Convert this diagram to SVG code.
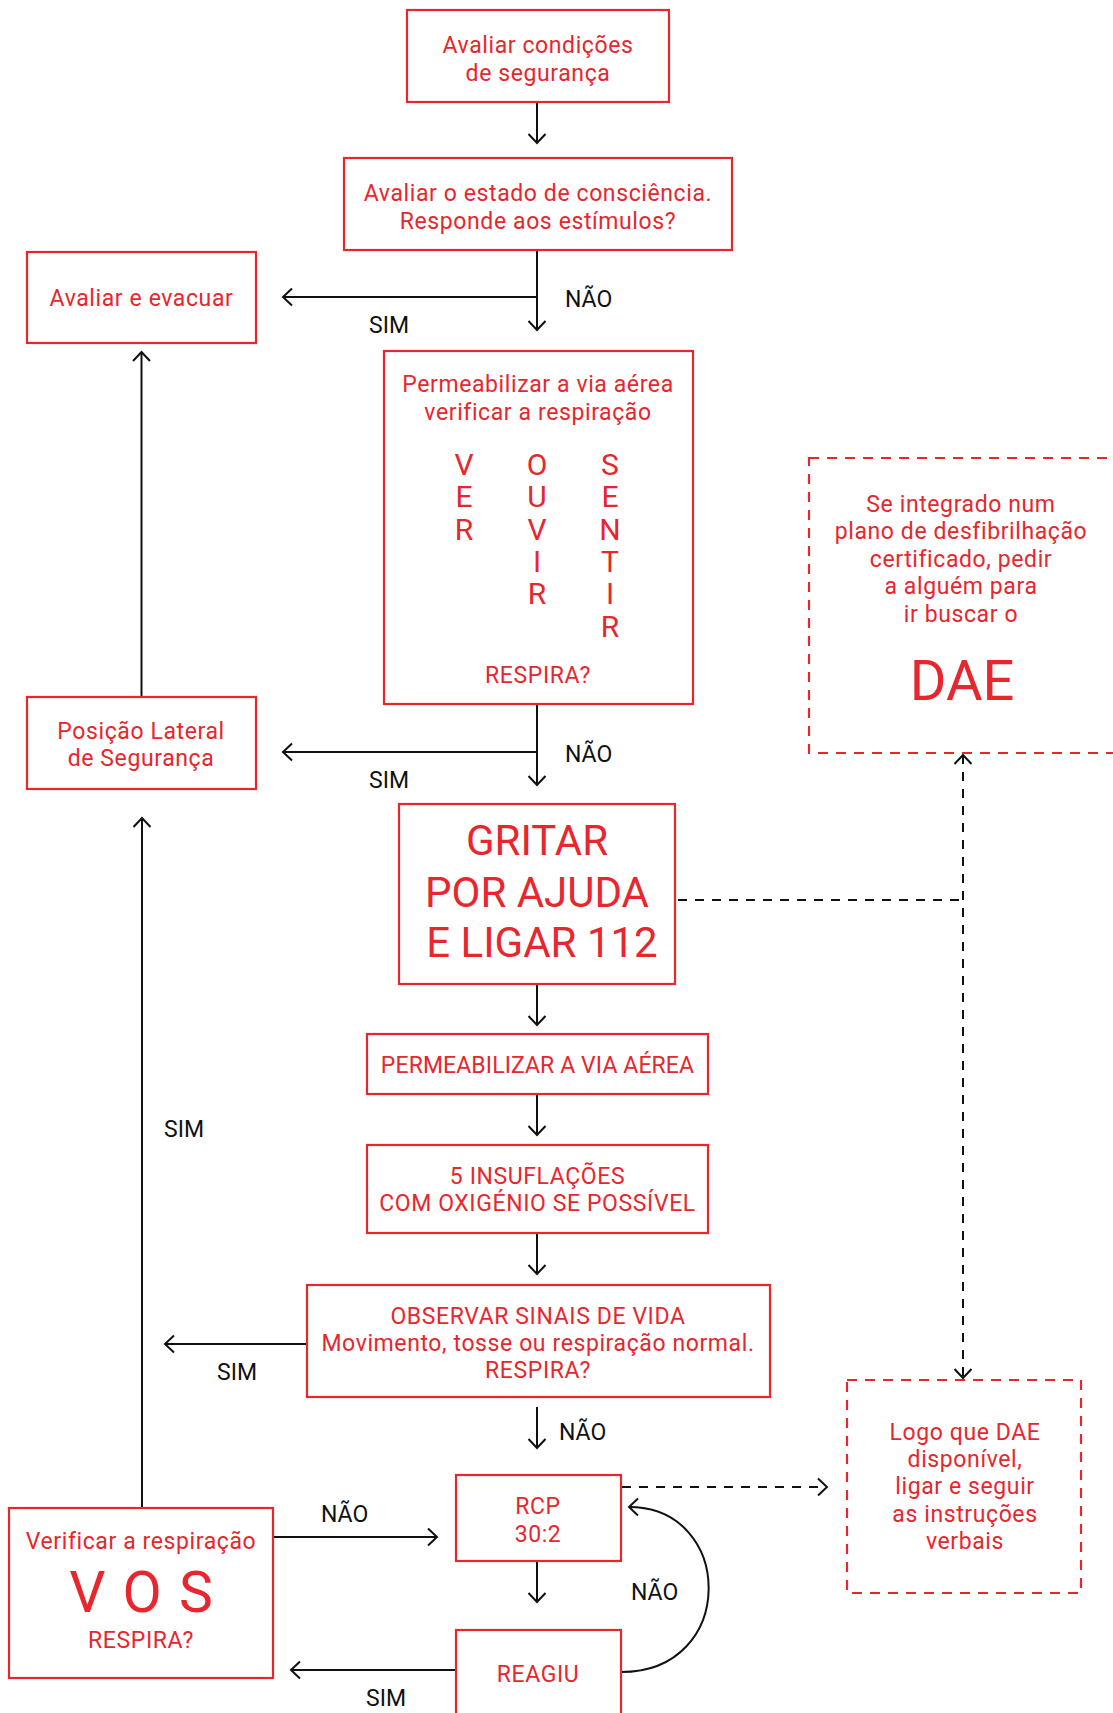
<svg xmlns="http://www.w3.org/2000/svg" width="1113" height="1713" viewBox="0 0 1113 1713">
  <style>
    .box { fill: #fff; stroke: #e8262d; stroke-width: 2.2; }
    .dbox { fill: none; stroke: #e8262d; stroke-width: 2.2; stroke-dasharray: 10 8; }
    .t { font-family: Roboto, "Liberation Sans", sans-serif; font-size: 23px; fill: #e8262d; text-anchor: middle; letter-spacing: 0.6px; }
    .tight { letter-spacing: 0.1px; }
    .big { font-size: 42px; letter-spacing: 0; }
    .col { font-size: 30px; letter-spacing: 0; }
    .huge { font-size: 56px; letter-spacing: 0; }
    .vos { font-size: 57px; letter-spacing: 0; word-spacing: 3px; }
    .lbl { font-family: Roboto, "Liberation Sans", sans-serif; font-size: 23px; fill: #111; }
    .ln { fill: none; stroke: #111; stroke-width: 2; }
    .dash { fill: none; stroke: #111; stroke-width: 2; stroke-dasharray: 9 8; }
  </style>
  <defs>
    <marker id="ah" viewBox="-12 -11 14 22" refX="0" refY="0" markerWidth="14" markerHeight="22" orient="auto-start-reverse" markerUnits="userSpaceOnUse">
      <path d="M-9,-8.5 L0,0 L-9,8.5" fill="none" stroke="#111" stroke-width="2" stroke-dasharray="none"/>
    </marker>
  </defs>

  <!-- connectors -->
  <g id="connectors">
    <line class="ln" x1="537" y1="102" x2="537" y2="143" marker-end="url(#ah)"/>
    <line class="ln" x1="537" y1="250" x2="537" y2="330" marker-end="url(#ah)"/>
    <line class="ln" x1="538" y1="297" x2="283" y2="297" marker-end="url(#ah)"/>
    <line class="ln" x1="141.5" y1="697" x2="141.5" y2="352" marker-end="url(#ah)"/>
    <line class="ln" x1="537" y1="704" x2="537" y2="785" marker-end="url(#ah)"/>
    <line class="ln" x1="538" y1="752" x2="283" y2="752" marker-end="url(#ah)"/>
    <line class="ln" x1="537" y1="984" x2="537" y2="1025" marker-end="url(#ah)"/>
    <line class="ln" x1="537" y1="1094" x2="537" y2="1135" marker-end="url(#ah)"/>
    <line class="ln" x1="537" y1="1233" x2="537" y2="1274" marker-end="url(#ah)"/>
    <line class="ln" x1="307" y1="1344" x2="165" y2="1344" marker-end="url(#ah)"/>
    <line class="ln" x1="537" y1="1407" x2="537" y2="1448" marker-end="url(#ah)"/>
    <line class="ln" x1="273" y1="1537" x2="437" y2="1537" marker-end="url(#ah)"/>
    <line class="ln" x1="142" y1="1508" x2="142" y2="818" marker-end="url(#ah)"/>
    <line class="ln" x1="537" y1="1561" x2="537" y2="1602" marker-end="url(#ah)"/>
    <line class="ln" x1="456" y1="1670" x2="291" y2="1670" marker-end="url(#ah)"/>
    <path class="ln" d="M621,1672 C738,1672 735,1507 629,1507" marker-end="url(#ah)"/>
    <line class="dash" x1="678" y1="900" x2="963" y2="900"/>
    <line class="dash" x1="963" y1="755" x2="963" y2="1378" marker-start="url(#ah)" marker-end="url(#ah)"/>
    <line class="dash" x1="622" y1="1487" x2="827" y2="1487" marker-end="url(#ah)"/>

    <text class="lbl" x="565" y="307">NÃO</text>
    <text class="lbl" x="369" y="333">SIM</text>
    <text class="lbl" x="565" y="762">NÃO</text>
    <text class="lbl" x="369" y="788">SIM</text>
    <text class="lbl" x="164" y="1137">SIM</text>
    <text class="lbl" x="217" y="1380">SIM</text>
    <text class="lbl" x="559" y="1440">NÃO</text>
    <text class="lbl" x="321" y="1522">NÃO</text>
    <text class="lbl" x="631" y="1600">NÃO</text>
    <text class="lbl" x="366" y="1706">SIM</text>
  </g>

  <!-- nodes -->
  <g id="seguranca">
    <rect class="box" x="407" y="10" width="262" height="92"/>
    <text class="t" x="538" y="53">Avaliar condições</text>
    <text class="t" x="538" y="81">de segurança</text>
  </g>
  <g id="consciencia">
    <rect class="box" x="344" y="158" width="388" height="92"/>
    <text class="t" x="538" y="201">Avaliar o estado de consciência.</text>
    <text class="t" x="538" y="229">Responde aos estímulos?</text>
  </g>
  <g id="evacuar">
    <rect class="box" x="27" y="252" width="229" height="91"/>
    <text class="t" x="141.5" y="306">Avaliar e evacuar</text>
  </g>
  <g id="via-aerea">
    <rect class="box" x="384" y="351" width="309" height="353"/>
    <text class="t" x="538" y="392">Permeabilizar a via aérea</text>
    <text class="t" x="538" y="420">verificar a respiração</text>
    <g class="t col">
      <text x="464" y="475">V</text>
      <text x="464" y="507">E</text>
      <text x="464" y="540">R</text>
      <text x="537" y="475">O</text>
      <text x="537" y="507">U</text>
      <text x="537" y="540">V</text>
      <text x="537" y="572">I</text>
      <text x="537" y="604">R</text>
      <text x="610" y="475">S</text>
      <text x="610" y="507">E</text>
      <text x="610" y="540">N</text>
      <text x="610" y="572">T</text>
      <text x="610" y="604">I</text>
      <text x="610" y="637">R</text>
    </g>
    <text class="t" x="538" y="683">RESPIRA?</text>
  </g>
  <g id="dae">
    <rect class="dbox" x="809" y="458" width="330" height="295"/>
    <text class="t" x="961" y="512">Se integrado num</text>
    <text class="t" x="961" y="539">plano de desfibrilhação</text>
    <text class="t" x="961" y="567">certificado, pedir</text>
    <text class="t" x="961" y="594">a alguém para</text>
    <text class="t" x="961" y="622">ir buscar o</text>
    <text class="t huge" x="962" y="700">DAE</text>
  </g>
  <g id="pls">
    <rect class="box" x="27" y="697" width="229" height="92"/>
    <text class="t" x="141" y="739">Posição Lateral</text>
    <text class="t" x="141" y="766">de Segurança</text>
  </g>
  <g id="gritar">
    <rect class="box" x="399" y="804" width="276" height="180"/>
    <text class="t big" x="537" y="855">GRITAR</text>
    <text class="t big" x="537" y="907">POR AJUDA</text>
    <text class="t big" x="542" y="957">E LIGAR 112</text>
  </g>
  <g id="permeabilizar">
    <rect class="box" x="367" y="1034" width="341" height="60"/>
    <text class="t tight" x="537.5" y="1073">PERMEABILIZAR A VIA AÉREA</text>
  </g>
  <g id="insuflacoes">
    <rect class="box" x="367" y="1145" width="341" height="88"/>
    <text class="t" x="537.5" y="1184">5 INSUFLAÇÕES</text>
    <text class="t" x="537.5" y="1211">COM OXIGÉNIO SE POSSÍVEL</text>
  </g>
  <g id="sinais-vida">
    <rect class="box" x="307" y="1285" width="463" height="112"/>
    <text class="t" x="538" y="1324">OBSERVAR SINAIS DE VIDA</text>
    <text class="t" x="538" y="1351">Movimento, tosse ou respiração normal.</text>
    <text class="t" x="538" y="1378">RESPIRA?</text>
  </g>
  <g id="rcp">
    <rect class="box" x="456" y="1475" width="165" height="86"/>
    <text class="t" x="538" y="1514">RCP</text>
    <text class="t" x="538" y="1542">30:2</text>
  </g>
  <g id="logo-dae">
    <rect class="dbox" x="847" y="1380" width="234" height="213"/>
    <text class="t" x="965" y="1440">Logo que DAE</text>
    <text class="t" x="965" y="1467">disponível,</text>
    <text class="t" x="965" y="1494">ligar e seguir</text>
    <text class="t" x="965" y="1522">as instruções</text>
    <text class="t" x="965" y="1549">verbais</text>
  </g>
  <g id="vos">
    <rect class="box" x="9" y="1508" width="264" height="170"/>
    <text class="t" x="141" y="1549">Verificar a respiração</text>
    <text class="t vos" x="141" y="1612">V O S</text>
    <text class="t" x="141" y="1648">RESPIRA?</text>
  </g>
  <g id="reagiu">
    <rect class="box" x="456" y="1630" width="165" height="100"/>
    <text class="t" x="538" y="1682">REAGIU</text>
  </g>
</svg>
